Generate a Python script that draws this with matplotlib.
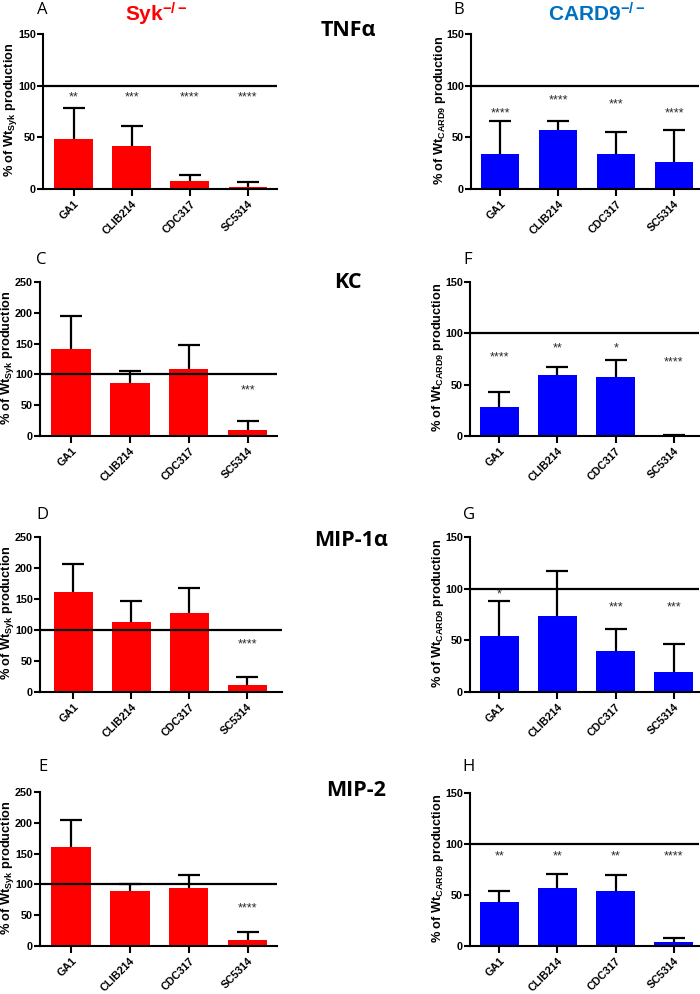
import matplotlib
matplotlib.use("Agg")
import matplotlib.pyplot as plt
import numpy as np

plt.rcParams['font.family'] = ['Liberation Sans', 'DejaVu Sans']
plt.rcParams['mathtext.fontset'] = 'custom'
plt.rcParams['mathtext.rm'] = 'Liberation Sans:bold'
plt.rcParams['mathtext.it'] = 'Liberation Sans:bold'
plt.rcParams['mathtext.bf'] = 'Liberation Sans:bold'
plt.rcParams['mathtext.default'] = 'rm'

# data (% of WT production, mean and upper SD)
strains = ['GA1', 'CLIB214', 'CDC317', 'SC5314']

tnf_syk_mean = [48, 42, 7.5, 1.5]
tnf_syk_sd = [30, 18.5, 6, 5.5]
tnf_syk_stars = ['**', '***', '****', '****']
tnf_syk_star_y = [88.5, 88.5, 88.5, 88.5]

tnf_card_mean = [34, 57, 34, 26]
tnf_card_sd = [31.5, 9, 21, 31.5]
tnf_card_stars = ['****', '****', '***', '****']
tnf_card_star_y = [73.5, 85.5, 81.5, 73.5]

kc_syk_mean = [141.5, 86.5, 109.5, 9.5]
kc_syk_sd = [54, 18.5, 39, 15.5]
kc_syk_stars = ['', '', '', '***']
kc_syk_star_y = [0, 0, 0, 74.5]

kc_card_mean = [28, 59, 57.5, 0.5]
kc_card_sd = [14.5, 8, 16.5, 0.4]
kc_card_stars = ['****', '**', '*', '****']
kc_card_star_y = [77, 85, 85, 72]

mip1_syk_mean = [162, 112.5, 128, 12]
mip1_syk_sd = [44, 33.5, 39.5, 12.5]
mip1_syk_stars = ['', '', '', '****']
mip1_syk_star_y = [0, 0, 0, 77]

mip1_card_mean = [54, 74, 40, 19.5]
mip1_card_sd = [34, 43, 21, 27]
mip1_card_stars = ['*', '', '***', '***']
mip1_card_star_y = [94, 0, 82, 82]

mip2_syk_mean = [160.5, 88.5, 94, 10]
mip2_syk_sd = [44.5, 11.5, 22, 12.5]
mip2_syk_stars = ['', '', '', '****']
mip2_syk_star_y = [0, 0, 0, 61.5]

mip2_card_mean = [43, 57, 54, 4]
mip2_card_sd = [11, 13.3, 15.5, 4.2]
mip2_card_stars = ['**', '**', '**', '****']
mip2_card_star_y = [88, 88, 88, 88]

W, H = 700, 994
fig = plt.figure(figsize=(W / 100, H / 100), dpi=100)


def rect(l, r, t, b):
    return [l / W, 1 - b / H, (r - l) / W, (b - t) / H]


def panel(box, xlim, ymax, mean, sd, stars, star_y, color, sub, letter, letter_xy):
    ax = fig.add_axes(rect(*box))
    x = np.arange(len(strains))
    ax.bar(x, mean, width=0.67, color=color, zorder=2)
    _, caps, _ = ax.errorbar(x, mean, yerr=[np.zeros(len(sd)), sd], fmt='none',
                             ecolor='black', elinewidth=1.6, capsize=8, capthick=1.6, zorder=1)
    caps[0].set_visible(False)  # no cap at the bar top
    ax.axhline(100, color='black', lw=1.6, zorder=3)
    for xi, s, yy in zip(x, stars, star_y):
        if s:
            ax.text(xi, yy, s, ha='center', va='center', fontsize=9, color='#2a2a2a')
    ax.set_xlim(*xlim)
    ax.set_ylim(0, ymax)
    ax.set_yticks(np.arange(0, ymax + 1, 50))
    ax.set_xticks(x)
    ax.set_xticklabels(strains, rotation=45, ha='right', rotation_mode='anchor')
    for lab in ax.get_xticklabels() + ax.get_yticklabels():
        lab.set_fontweight('bold')
        lab.set_fontsize(7.8)
    ax.tick_params(width=1.5, length=4, pad=1.2)
    ax.tick_params(axis='x', length=5, pad=2)
    for sp in ['top', 'right']:
        ax.spines[sp].set_visible(False)
    for sp in ['left', 'bottom']:
        ax.spines[sp].set_linewidth(1.5)
    ax.set_ylabel('% of Wt$_{' + sub + '}$ production', fontsize=9.2, fontweight='bold')
    ax.yaxis.set_label_coords(-23.5 / (box[1] - box[0]), 0.51)
    fig.text(letter_xy[0] / W, 1 - letter_xy[1] / H, letter, fontsize=12,
             ha='center', va='center', family='Open Sans')
    return ax


red, blue = '#FF0000', '#0000FF'
syk_xlim = (-0.53, 3.5)
card_xlim = (-0.5, 3.43)

panel((43, 277, 34, 189), syk_xlim, 150, tnf_syk_mean, tnf_syk_sd, tnf_syk_stars,
      tnf_syk_star_y, red, 'Syk', 'A', (42, 10))
panel((471, 699, 34, 189), card_xlim, 150, tnf_card_mean, tnf_card_sd, tnf_card_stars,
      tnf_card_star_y, blue, 'CARD9', 'B', (459, 10))
panel((40, 277, 282, 436), syk_xlim, 250, kc_syk_mean, kc_syk_sd, kc_syk_stars,
      kc_syk_star_y, red, 'Syk', 'C', (41, 260))
panel((470, 699, 282, 436), card_xlim, 150, kc_card_mean, kc_card_sd, kc_card_stars,
      kc_card_star_y, blue, 'CARD9', 'F', (468, 260))
panel((40, 282, 537, 692), (-0.57, 3.6), 250, mip1_syk_mean, mip1_syk_sd, mip1_syk_stars,
      mip1_syk_star_y, red, 'Syk', 'D', (42, 515))
panel((470, 699, 537, 692), card_xlim, 150, mip1_card_mean, mip1_card_sd, mip1_card_stars,
      mip1_card_star_y, blue, 'CARD9', 'G', (469, 515))
panel((40, 277, 792, 946), syk_xlim, 250, mip2_syk_mean, mip2_syk_sd, mip2_syk_stars,
      mip2_syk_star_y, red, 'Syk', 'E', (43, 767))
panel((470, 699, 793, 946), card_xlim, 150, mip2_card_mean, mip2_card_sd, mip2_card_stars,
      mip2_card_star_y, blue, 'CARD9', 'H', (469, 767))

# cytokine titles
for name, xy in [('TNFα', (348, 31)), ('KC', (348, 282)), ('MIP-1α', (351, 540)), ('MIP-2', (356, 790))]:
    fig.text(xy[0] / W, 1 - xy[1] / H, name, fontsize=15.5, fontweight='bold',
             ha='center', va='center', family=['Open Sans', 'DejaVu Sans'])

fig.text(156 / W, 1 - 14 / H, 'Syk$^{-/-}$', color='#FF0000', fontsize=15,
         fontweight='bold', ha='center', va='center')
fig.text(597 / W, 1 - 14 / H, 'CARD9$^{-/-}$', color='#0070C0', fontsize=15,
         fontweight='bold', ha='center', va='center')

fig.savefig('out.png', dpi=100)
